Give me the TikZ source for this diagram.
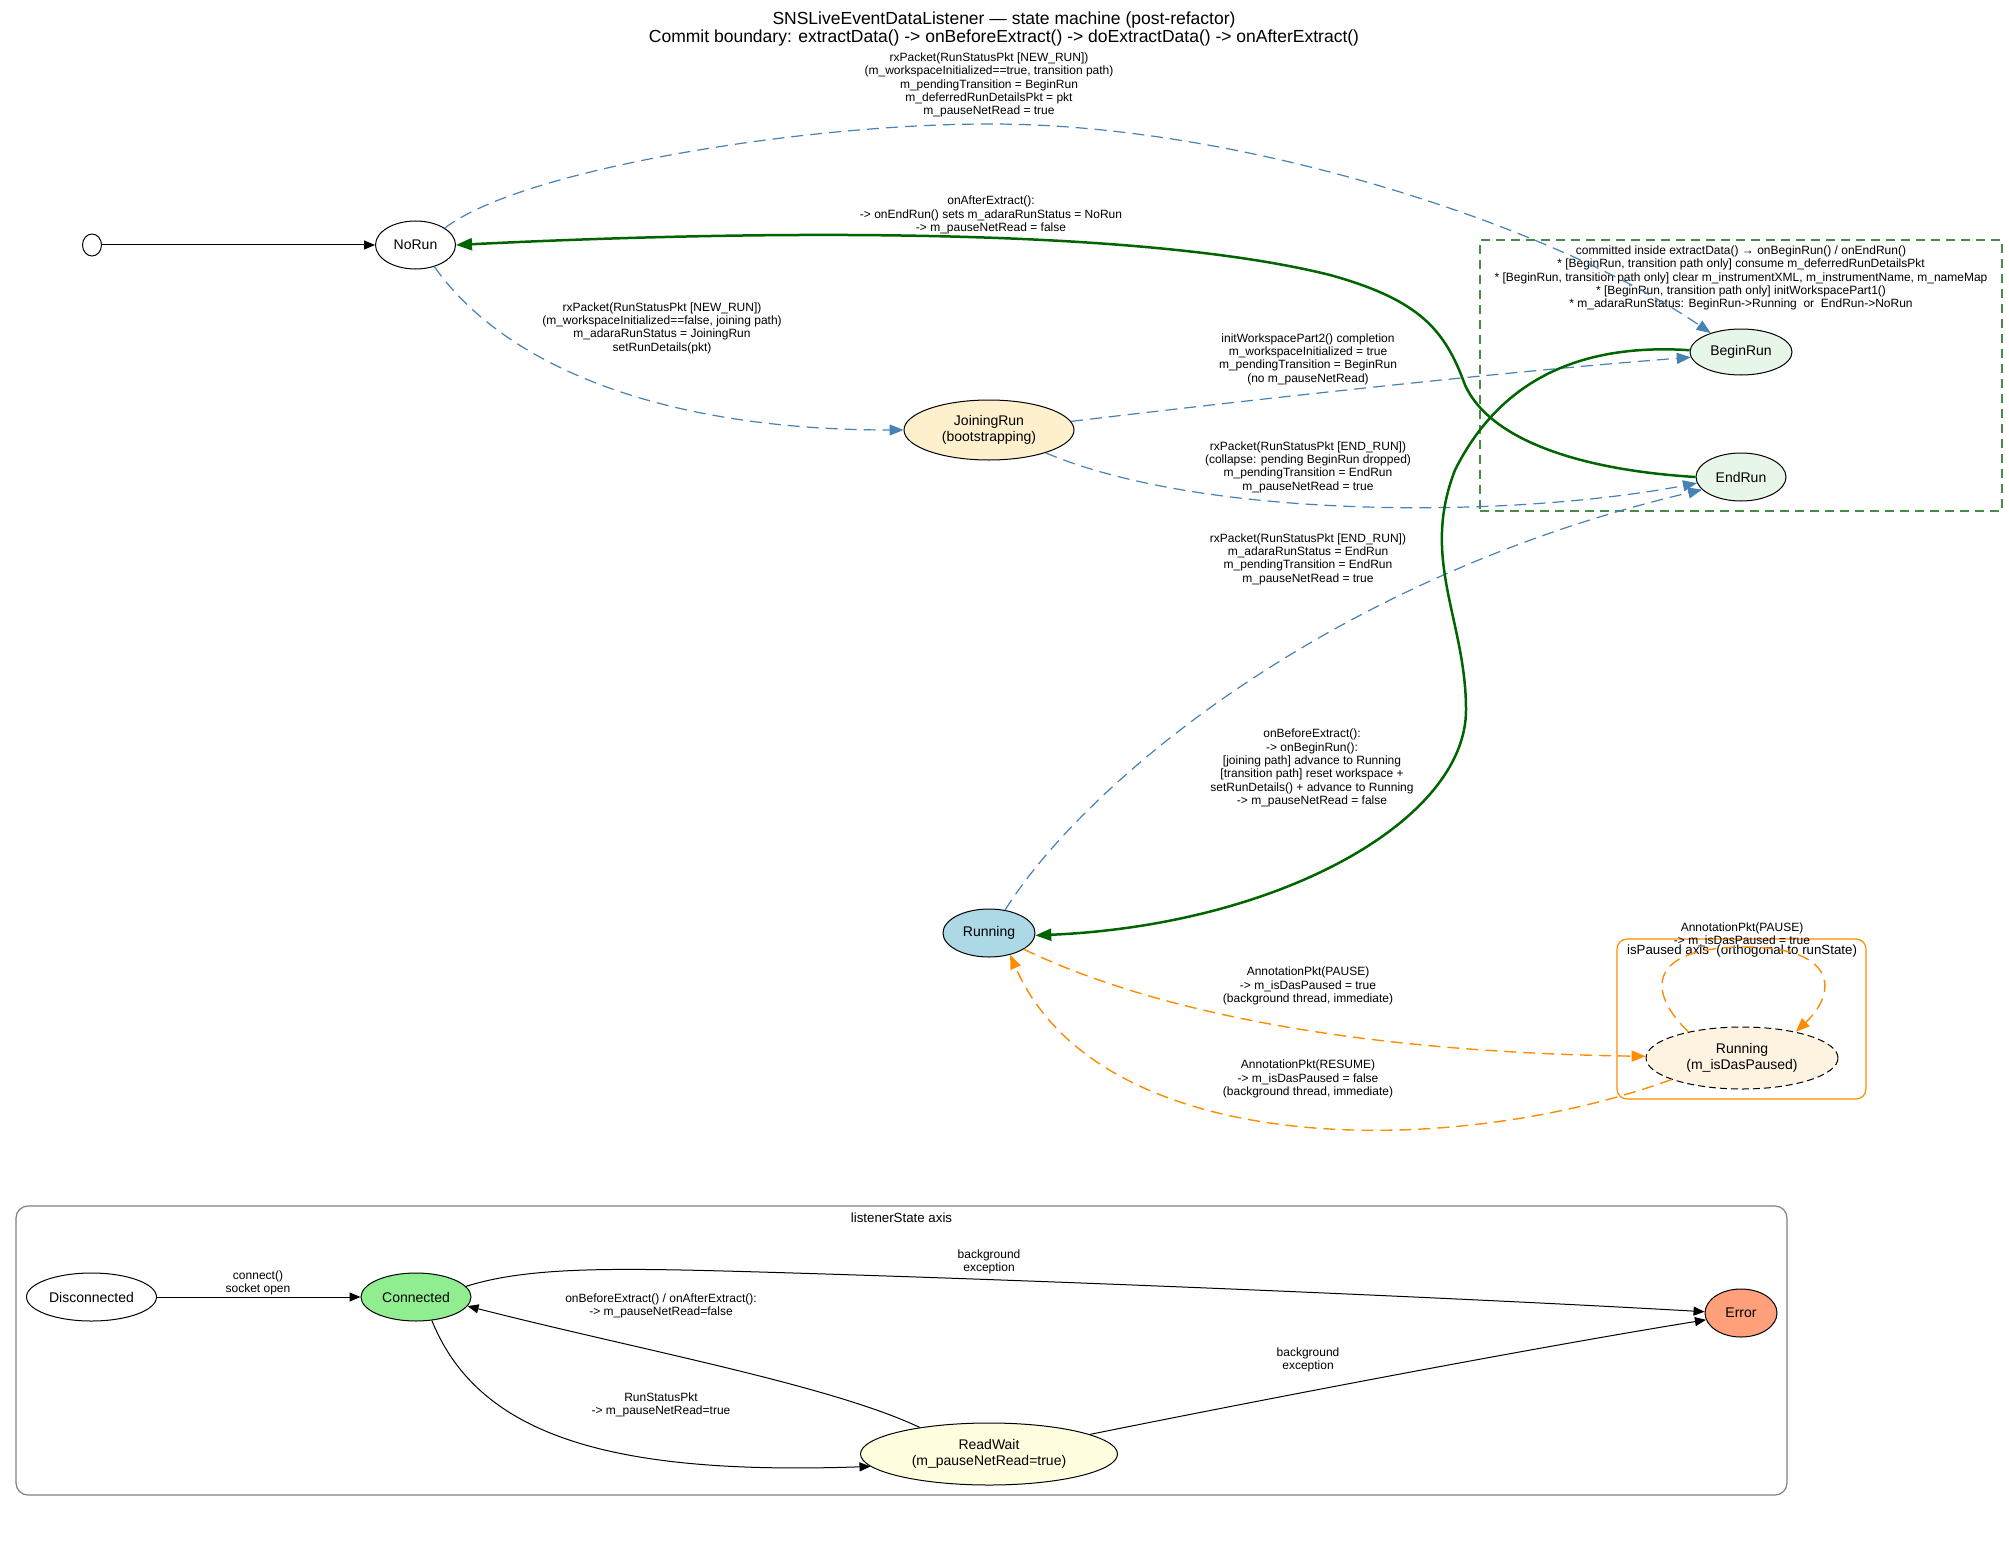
\documentclass[tikz,border=0pt]{standalone}
\usepackage{fontspec}
\setmainfont{Liberation Sans}
\usetikzlibrary{arrows.meta,shapes.geometric}
\definecolor{stblue}{RGB}{70,130,180}
\definecolor{dgreen}{RGB}{0,100,0}
\definecolor{boxgreen}{RGB}{70,140,70}
\definecolor{dorange}{RGB}{255,140,0}
\definecolor{joinfill}{RGB}{255,240,205}
\definecolor{runfill}{RGB}{232,245,233}
\definecolor{runningfill}{RGB}{173,216,230}
\definecolor{pausefill}{RGB}{253,243,224}
\definecolor{connfill}{RGB}{144,238,144}
\definecolor{errfill}{RGB}{255,160,122}
\definecolor{rwfill}{RGB}{255,255,224}
\definecolor{clgray}{RGB}{128,128,128}
\newcommand\ttlfont{\fontsize{17.5}{18}\selectfont}
\newcommand\ndfont{\fontsize{14}{16}\selectfont}
\newcommand\edfont{\fontsize{12}{13.4}\selectfont}
\newcommand\clfont{\fontsize{13.3}{15}\selectfont}
\tikzset{
  st/.style={ellipse, draw=black, line width=1pt, inner sep=0pt, font=\ndfont, align=center},
  lbl/.style={font=\edfont, align=center, inner sep=0pt},
  cllbl/.style={font=\clfont, align=center, inner sep=0pt},
  blk/.style={draw=black, line width=1pt, -{Triangle[length=11pt,width=9pt]}},
  bdash/.style={draw=stblue, line width=1.2pt, dash pattern=on 12pt off 7pt, -{Triangle[length=14pt,width=11pt,fill=stblue]}},
  gthick/.style={draw=dgreen, line width=2.5pt, -{Triangle[length=16pt,width=12pt,fill=dgreen]}},
  odash/.style={draw=dorange, line width=1.4pt, dash pattern=on 12pt off 7pt, -{Triangle[length=14pt,width=11pt,fill=dorange]}},
}
\begin{document}
\begin{tikzpicture}[x=1pt,y=-1pt]
\path[use as bounding box, fill=white] (0,0) rectangle (2009,1554);
% clusters
\node[draw=boxgreen, line width=1.5pt, dash pattern=on 9pt off 6pt, minimum width=522pt, minimum height=271pt, inner sep=0pt] (commitbox) at (1741,375.5) {};
\node[draw=dorange, line width=1.2pt, rounded corners=10pt, minimum width=249pt, minimum height=160pt, inner sep=0pt] (pausebox) at (1741.5,1019) {};
\node[draw=clgray, line width=1.2pt, rounded corners=12pt, minimum width=1771pt, minimum height=289pt, inner sep=0pt] (listenerbox) at (901.5,1350.5) {};
% title
\node[font=\ttlfont, align=center, inner sep=0pt] (title) at (1004,29) {SNSLiveEventDataListener — state machine (post-refactor)\\Commit boundary: extractData() -> onBeforeExtract() -> doExtractData() -> onAfterExtract()};
% cluster labels
\node[lbl] (commitlbl) at (1741,278) {committed inside extractData() → onBeginRun() / onEndRun()\\{*} [BeginRun, transition path only] consume m\_deferredRunDetailsPkt\\{*} [BeginRun, transition path only] clear m\_instrumentXML, m\_instrumentName, m\_nameMap\\{*} [BeginRun, transition path only] initWorkspacePart1()\\{*} m\_adaraRunStatus: BeginRun->Running\ \ or\ \ EndRun->NoRun};
\node[cllbl] (pauselbl) at (1742,951) {isPaused axis\ \ (orthogonal to runState)};
\node[cllbl] (listenerlbl) at (901.5,1218) {listenerState axis};
% states
\node[st, fill=white, minimum width=19pt, minimum height=22pt] (start) at (92,245) {};
\node[st, fill=white, minimum width=80pt, minimum height=48pt] (NoRun) at (415.5,245) {NoRun};
\node[st, fill=joinfill, minimum width=170pt, minimum height=60pt] (JoiningRun) at (989,430) {JoiningRun\\(bootstrapping)};
\node[st, fill=runfill, minimum width=102pt, minimum height=46pt] (BeginRun) at (1741,352) {BeginRun};
\node[st, fill=runfill, minimum width=90pt, minimum height=48pt] (EndRun) at (1741,477) {EndRun};
\node[st, fill=runningfill, minimum width=92pt, minimum height=48pt] (Running) at (989,933) {Running};
\node[st, fill=pausefill, dash pattern=on 7pt off 4pt, minimum width=192pt, minimum height=62pt] (Paused) at (1742,1058) {Running\\(m\_isDasPaused)};
\node[st, fill=white, minimum width=130pt, minimum height=48pt] (Disconnected) at (91.5,1297) {Disconnected};
\node[st, fill=connfill, minimum width=110pt, minimum height=48pt] (Connected) at (416,1297) {Connected};
\node[st, fill=errfill, minimum width=72pt, minimum height=48pt] (Error) at (1741,1313) {Error};
\node[st, fill=rwfill, minimum width=257pt, minimum height=62pt] (ReadWait) at (989,1454) {ReadWait\\(m\_pauseNetRead=true)};
% edge labels
\node[lbl] (lnewtrans) at (989,85) {rxPacket(RunStatusPkt [NEW\_RUN])\\(m\_workspaceInitialized==true, transition path)\\m\_pendingTransition = BeginRun\\m\_deferredRunDetailsPkt = pkt\\m\_pauseNetRead = true};
\node[lbl] (lafter) at (991,215) {onAfterExtract():\\-> onEndRun() sets m\_adaraRunStatus = NoRun\\-> m\_pauseNetRead = false};
\node[lbl] (ljoin) at (662,328) {rxPacket(RunStatusPkt [NEW\_RUN])\\(m\_workspaceInitialized==false, joining path)\\m\_adaraRunStatus = JoiningRun\\setRunDetails(pkt)};
\node[lbl] (linit) at (1308,359) {initWorkspacePart2() completion\\m\_workspaceInitialized = true\\m\_pendingTransition = BeginRun\\(no m\_pauseNetRead)};
\node[lbl] (lcollapse) at (1308,467) {rxPacket(RunStatusPkt [END\_RUN])\\(collapse: pending BeginRun dropped)\\m\_pendingTransition = EndRun\\m\_pauseNetRead = true};
\node[lbl] (lendrun) at (1308,559) {rxPacket(RunStatusPkt [END\_RUN])\\m\_adaraRunStatus = EndRun\\m\_pendingTransition = EndRun\\m\_pauseNetRead = true};
\node[lbl] (lbefore) at (1312,768) {onBeforeExtract():\\-> onBeginRun():\\{[}joining path] advance to Running\\{[}transition path] reset workspace +\\setRunDetails() + advance to Running\\-> m\_pauseNetRead = false};
\node[lbl] (lpause) at (1308,986) {AnnotationPkt(PAUSE)\\-> m\_isDasPaused = true\\(background thread, immediate)};
\node[lbl] (lresume) at (1308,1079) {AnnotationPkt(RESUME)\\-> m\_isDasPaused = false\\(background thread, immediate)};
\node[lbl] (lloop) at (1742,935) {AnnotationPkt(PAUSE)\\-> m\_isDasPaused = true};
\node[lbl] (lconnect) at (258,1283) {connect()\\socket open};
\node[lbl] (lbgtop) at (989,1262) {background\\exception};
\node[lbl] (lbefaft) at (661,1306) {onBeforeExtract() / onAfterExtract():\\-> m\_pauseNetRead=false};
\node[lbl] (lrsp) at (661,1405) {RunStatusPkt\\-> m\_pauseNetRead=true};
\node[lbl] (lbgbot) at (1308,1360) {background\\exception};
% edges
\draw[blk] (start) -- (NoRun);
\draw[bdash] (NoRun.30) .. controls (520,170) and (800,124) .. (990,124) .. controls (1250,124) and (1560,230) .. (BeginRun.148);
\draw[bdash] (NoRun.-49) .. controls (500,360) and (650,430) .. (JoiningRun.west);
\draw[bdash] (JoiningRun.6) .. controls (1250,400) and (1500,372) .. (BeginRun.186);
\draw[bdash] (JoiningRun.-22) .. controls (1200,518) and (1500,520) .. (EndRun.188);
\draw[bdash] (Running.55) .. controls (1080,790) and (1320,580) .. (EndRun.198);
\draw[gthick] (BeginRun.178) .. controls (1580,343) and (1500,380) .. (1455,470) .. controls (1420,560) and (1466,620) .. (1466,710) .. controls (1466,820) and (1280,925) .. (Running.-3);
\draw[gthick] (EndRun.180) .. controls (1580,470) and (1490,440) .. (1465,385) .. controls (1445,330) and (1420,300) .. (1330,275) .. controls (1150,230) and (800,228) .. (NoRun.east);
\draw[odash] (Running.-25) .. controls (1150,1010) and (1350,1052) .. (Paused.179);
\draw[odash] (Paused.197) .. controls (1450,1160) and (1100,1160) .. (Running.-46);
\draw[odash] (Paused.154) .. controls (1645,990) and (1650,948) .. (1742,947) .. controls (1834,946) and (1840,990) .. (Paused.26);
\draw[blk] (Disconnected) -- (Connected);
\draw[blk] (Connected.12) .. controls (530,1266) and (620,1268) .. (760,1272) .. controls (1100,1282) and (1500,1300) .. (Error.178);
\draw[blk] (Connected.-56) .. controls (480,1440) and (620,1475) .. (ReadWait.186);
\draw[blk] (ReadWait.159) .. controls (830,1385) and (640,1350) .. (Connected.-10);
\draw[blk] (ReadWait.11) .. controls (1300,1392) and (1550,1345) .. (Error.191);
\end{tikzpicture}
\end{document}
